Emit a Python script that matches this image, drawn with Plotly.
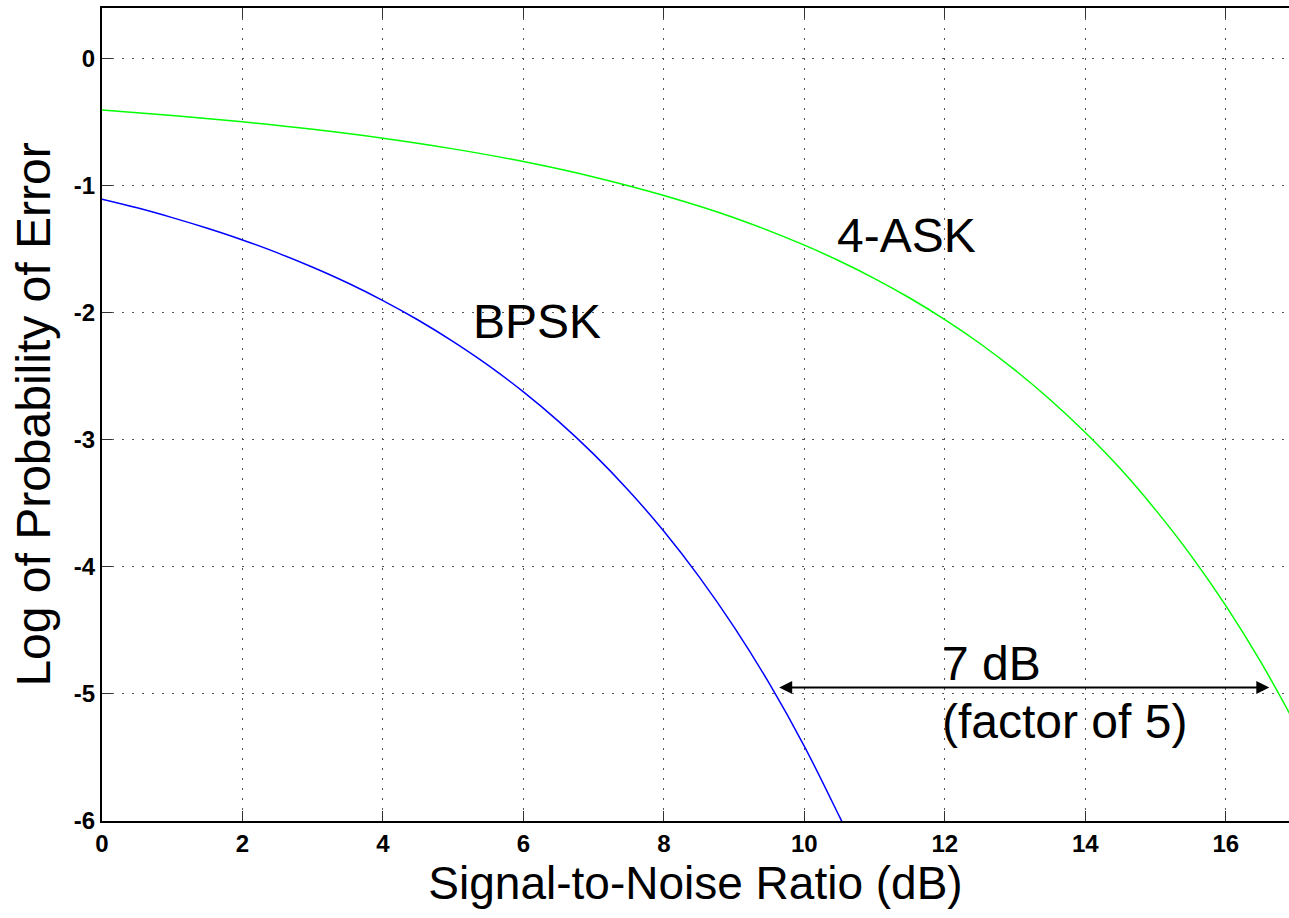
import plotly.graph_objects as go

# SNR in dB (x) and log10 of probability of error (y)
bpsk_snr = [0, 0.5, 1, 1.5, 2, 2.5, 3, 3.5, 4, 4.5, 5, 5.5, 6, 6.5, 7, 7.5, 8, 8.5, 9, 9.5, 10, 10.5, 10.6]
bpsk_log = [-1.105, -1.173, -1.250, -1.334, -1.426, -1.528, -1.641, -1.765, -1.903, -2.056, -2.226, -2.413,
            -2.622, -2.854, -3.112, -3.400, -3.719, -4.076, -4.474, -4.917, -5.412, -5.966, -6.08]

ask_snr = [0, 1, 2, 3, 4, 5, 6, 7, 8, 9, 10, 10.5, 11, 11.5, 12, 12.5, 13, 13.5, 14, 14.5, 15, 15.5, 16, 16.5, 17]
ask_log = [-0.403, -0.446, -0.496, -0.555, -0.625, -0.709, -0.809, -0.930, -1.076, -1.251, -1.467, -1.592,
           -1.730, -1.883, -2.053, -2.241, -2.451, -2.684, -2.942, -3.228, -3.551, -3.907, -4.305, -4.750, -5.248]

x_ticks = [0, 2, 4, 6, 8, 10, 12, 14, 16]
y_ticks = [0, -1, -2, -3, -4, -5, -6]
y_tick_text = ["0", "-1", "-2", "-3", "-4", "-5", "-6"]

x_range = [0, 16.9]
y_range = [-6, 0.4]

gap_left_snr = 9.62
gap_right_snr = 16.62
gap_level = -4.95

FONT = "Liberation Sans, Arial, sans-serif"

fig = go.Figure()
fig.add_trace(go.Scatter(x=ask_snr, y=ask_log, mode="lines", line=dict(color="#00FF00", width=1.5, shape="spline"),
                         name="4-ASK", showlegend=False))
fig.add_trace(go.Scatter(x=bpsk_snr, y=bpsk_log, mode="lines", line=dict(color="#0000FF", width=1.5, shape="spline"),
                         name="BPSK", showlegend=False))

# double-headed arrow for the 7 dB gap
fig.add_annotation(x=gap_right_snr, y=gap_level, ax=gap_left_snr, ay=gap_level, xref="x", yref="y",
                   axref="x", ayref="y", text="", showarrow=True, arrowhead=2, startarrowhead=2,
                   arrowside="end+start", arrowsize=1.3, startarrowsize=1.3, arrowwidth=2, arrowcolor="black")

big = dict(family=FONT, size=48, color="black")
fig.add_annotation(x=6.19, y=-2.07, text="BPSK", showarrow=False, font=big)
fig.add_annotation(x=11.45, y=-1.39, text="4-ASK", showarrow=False, font=big)
fig.add_annotation(x=11.93, y=-4.76, text="7 dB", showarrow=False, font=big, xanchor="left")
fig.add_annotation(x=11.93, y=-5.22, text="(factor of 5)", showarrow=False, font=big, xanchor="left")

fig.update_layout(
    width=1289, height=918,
    margin=dict(l=102, r=0, t=8, b=97),
    paper_bgcolor="white", plot_bgcolor="white",
    showlegend=False,
)
fig.update_xaxes(
    range=x_range, tickvals=x_ticks, ticktext=[str(v) for v in x_ticks],
    tickfont=dict(family=FONT, size=24, color="black", weight="bold"),
    ticks="inside", ticklen=10, tickcolor="#333333", tickwidth=1,
    showline=True, linecolor="black", linewidth=2, mirror="ticks",
    showgrid=True, gridcolor="#555555", gridwidth=1, griddash="2px,8px",
    zeroline=False,
    title=dict(text="Signal-to-Noise Ratio (dB)", font=dict(family=FONT, size=46, color="black"), standoff=10),
)
fig.update_yaxes(
    range=y_range, tickvals=y_ticks, ticktext=y_tick_text,
    tickfont=dict(family=FONT, size=24, color="black", weight="bold"),
    ticks="inside", ticklen=10, tickcolor="#333333", tickwidth=1,
    showline=True, linecolor="black", linewidth=2, mirror=False,
    showgrid=True, gridcolor="#555555", gridwidth=1, griddash="2px,8px",
    zeroline=False,
    title=dict(text="Log of Probability of Error", font=dict(family=FONT, size=48, color="black"), standoff=8),
)

fig.write_html("out.html")
